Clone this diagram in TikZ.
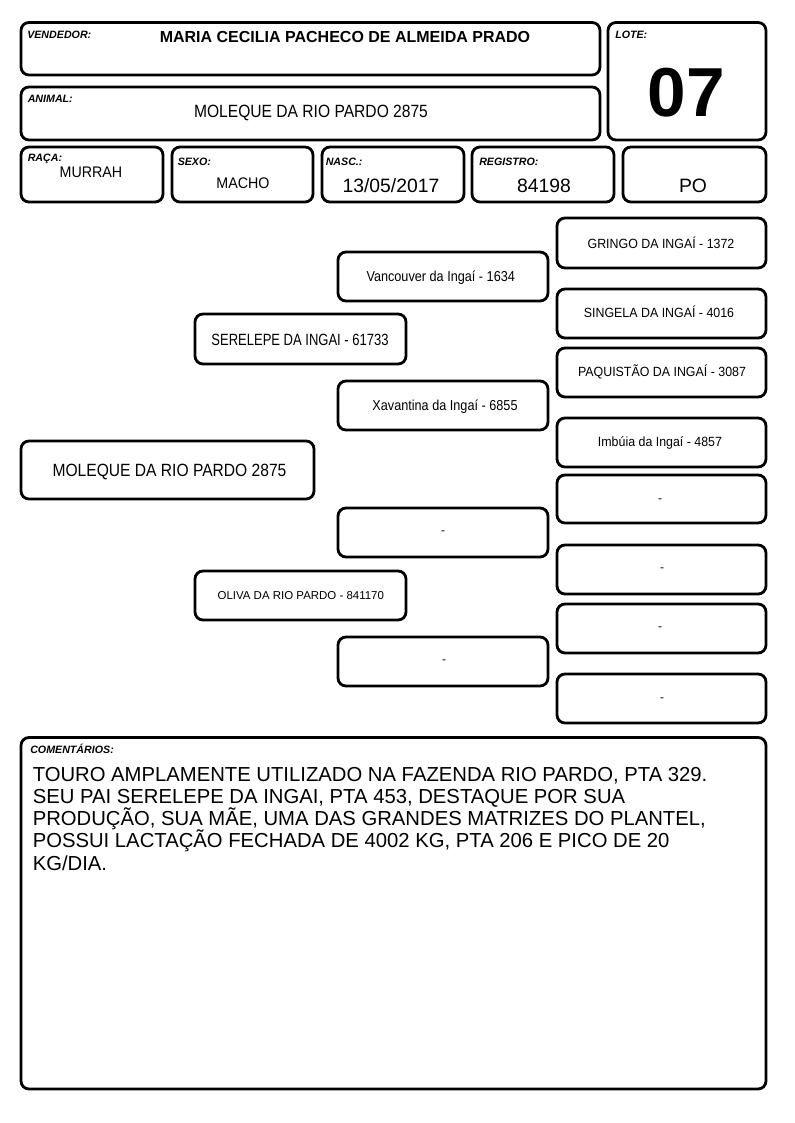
\documentclass[tikz,border=0pt]{standalone}
\usepackage{fontspec}
\setmainfont{Liberation Sans}
\newfontfamily\cndA[FakeStretch=0.88]{Liberation Sans}
\newfontfamily\cndB[FakeStretch=0.8]{Liberation Sans}
\newfontfamily\cndC[FakeStretch=0.93]{Liberation Sans}
\newcommand\pbox[5]{\node[bx,minimum width={(#4-#2)*0.75pt},minimum height={(#5-#3)*0.75pt}] (#1) at ({(#2+#4)/2},{(#3+#5)/2}) {};}
\tikzset{
  bx/.style={draw=black,line width=2.1pt,rounded corners=6pt,inner sep=0pt,fill=white},
  lbl/.style={anchor=base west,inner sep=0pt,font=\fontsize{8}{9}\selectfont\bfseries\itshape},
  txt/.style={anchor=base,inner sep=0pt},
  gone/.style={font=\cndA\fontsize{13.3}{15}\selectfont},
  gtwo/.style={font=\cndB\fontsize{12.2}{14}\selectfont},
  gthree/.style={font=\cndA\fontsize{10.8}{12}\selectfont},
  gfour/.style={font=\cndC\fontsize{10}{12}\selectfont},
  dsh/.style={anchor=center,inner sep=0pt,font=\fontsize{9}{10}\selectfont},
  cmt/.style={anchor=base west,inner sep=0pt,font=\fontsize{15.2}{17}\selectfont},
  big/.style={font=\fontsize{14.5}{16}\selectfont}
}
\begin{document}
\begin{tikzpicture}[x=0.75pt,y=-0.75pt]
\useasboundingbox (0,0) rectangle (794,1123);
% header boxes
\pbox{vend}{21}{22.5}{600}{75}
\pbox{anim}{21}{87}{600}{140}
\pbox{lote}{608}{22.5}{766}{140}
\pbox{raca}{21}{147}{163}{202}
\pbox{sexo}{172}{147}{313}{202}
\pbox{nasc}{322}{147}{464}{202}
\pbox{reg}{472}{147}{614}{202}
\pbox{po}{623}{147}{766}{202}
% header labels
\node[lbl] (lvend) at (27,39) {VENDEDOR:};
\node[lbl] (lanim) at (27.5,102.3) {ANIMAL:};
\node[lbl] (llote) at (615,39) {LOTE:};
\node[lbl] (lraca) at (27.5,161.7) {RAÇA:};
\node[lbl] (lsexo) at (177.5,165.7) {SEXO:};
\node[lbl] (lnasc) at (325.5,165.7) {NASC.:};
\node[lbl] (lreg) at (479,165.7) {REGISTRO:};
% header values
\node[txt,font=\fontsize{12}{14}\selectfont\bfseries] (tvend) at (345,42.7) {MARIA CECILIA PACHECO DE ALMEIDA PRADO};
\node[txt,gone] (tanim) at (311,118) {MOLEQUE DA RIO PARDO 2875};
\node[txt,font=\fontsize{52}{56}\selectfont\bfseries] (tlote) at (686.5,116.7) {07};
\node[txt,font=\cndC\fontsize{11.5}{13}\selectfont] (traca) at (91,178) {MURRAH};
\node[txt,font=\cndC\fontsize{11.5}{13}\selectfont] (tsexo) at (243,189) {MACHO};
\node[txt,big] (tnasc) at (391,193) {13/05/2017};
\node[txt,big] (treg) at (544,193) {84198};
\node[txt,big] (tpo) at (693,193) {PO};
% pedigree generation 1
\pbox{m}{21}{441}{314}{499}
\node[txt,gone] (tm) at (169.5,476) {MOLEQUE DA RIO PARDO 2875};
% generation 2
\pbox{s}{195}{314}{406}{364}
\pbox{o}{195}{571}{406}{620}
\node[txt,gtwo] (ts) at (300,345.7) {SERELEPE DA INGAI - 61733};
\node[txt,font=\fontsize{8.6}{10}\selectfont] (to) at (300.8,599) {OLIVA DA RIO PARDO - 841170};
% generation 3
\pbox{v}{338}{252}{548}{301}
\pbox{x}{338}{381}{548}{430}
\pbox{d1}{338}{508}{548}{557}
\pbox{d2}{338}{637}{548}{686}
\node[txt,gthree] (tv) at (440.7,281) {Vancouver da Ingaí - 1634};
\node[txt,gthree] (tx) at (445,410) {Xavantina da Ingaí - 6855};
\node[dsh] (td1) at (443,533) {-};
\node[dsh] (td2) at (444,662) {-};
% generation 4
\pbox{g}{557}{218}{766}{268}
\pbox{sg}{557}{289}{766}{338}
\pbox{pq}{557}{348}{766}{397}
\pbox{im}{557}{418}{766}{467}
\pbox{e1}{557}{475}{766}{523}
\pbox{e2}{557}{545}{766}{594}
\pbox{e3}{557}{604}{766}{653}
\pbox{e4}{557}{674}{766}{723}
\node[txt,gfour] (tg) at (661,248) {GRINGO DA INGAÍ - 1372};
\node[txt,gfour] (tsg) at (659,317.7) {SINGELA DA INGAÍ - 4016};
\node[txt,gfour] (tpq) at (662,376.7) {PAQUISTÃO DA INGAÍ - 3087};
\node[txt,gfour] (tim) at (660,446.7) {Imbúia da Ingaí - 4857};
\node[dsh] (te1) at (660,500.5) {-};
\node[dsh] (te2) at (662,570) {-};
\node[dsh] (te3) at (660,629) {-};
\node[dsh] (te4) at (662,700) {-};
% comments
\pbox{com}{21}{737.5}{766}{1089}
\node[lbl] (lcom) at (30,753) {COMENTÁRIOS:};
\node[cmt] (c1) at (32.5,781) {TOURO AMPLAMENTE UTILIZADO NA FAZENDA RIO PARDO, PTA 329.};
\node[cmt] (c2) at (32.5,803.3) {SEU PAI SERELEPE DA INGAI, PTA 453, DESTAQUE POR SUA};
\node[cmt] (c3) at (32.5,825.5) {PRODUÇÃO, SUA MÃE, UMA DAS GRANDES MATRIZES DO PLANTEL,};
\node[cmt] (c4) at (32.5,847.7) {POSSUI LACTAÇÃO FECHADA DE 4002 KG, PTA 206 E PICO DE 20};
\node[cmt] (c5) at (32.5,870) {KG/DIA.};
\end{tikzpicture}
\end{document}
